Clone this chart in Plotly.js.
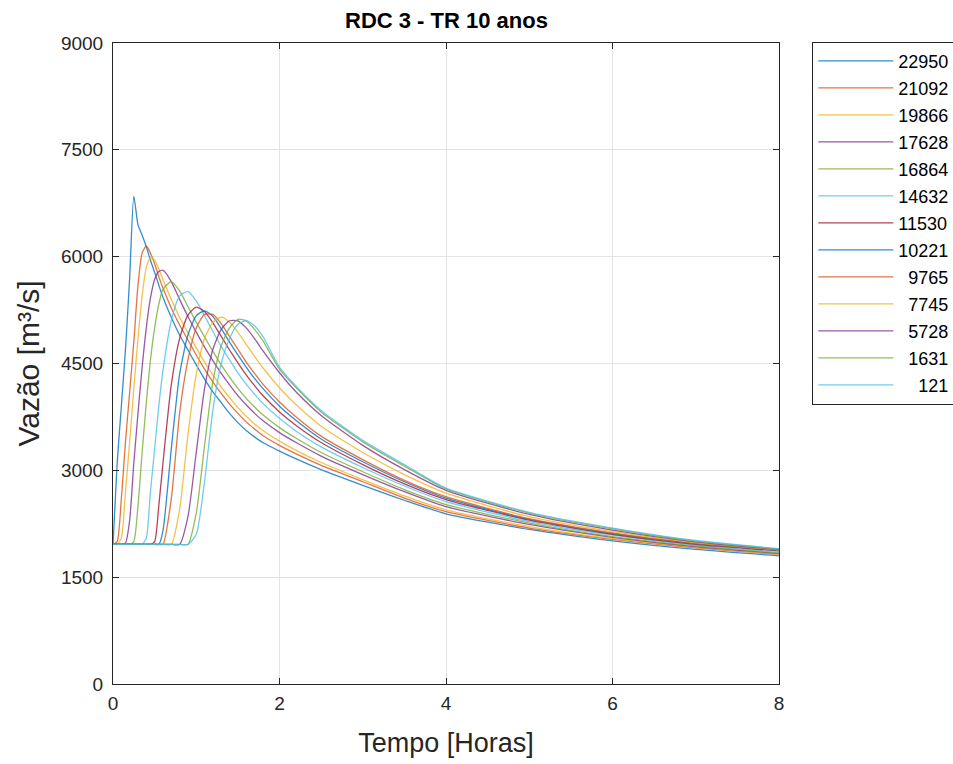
<!DOCTYPE html>
<html>
<head>
<meta charset="utf-8">
<script src="https://cdn.plot.ly/plotly-3.0.1.min.js"></script>
<style>html,body{margin:0;padding:0;background:#fff;}#chart{width:953px;height:764px;}</style>
</head>
<body>
<div id="chart"></div>
<script>
// Time (hours), shared by all series
const tempo = [0, 0.05, 0.1, 0.15, 0.2, 0.25, 0.3, 0.35, 0.4, 0.45, 0.5, 0.55, 0.6, 0.7, 0.8, 0.9, 1.0, 1.1, 1.2, 1.3, 1.4, 1.5, 1.6, 1.7, 1.8, 2.0, 2.2, 2.5, 3.0, 3.5, 4.0, 5.0, 6.0, 7.0, 8.0];

const legendLabels = ["22950", "21092", "19866", "17628", "16864", "14632", "11530", "10221", "9765", "7745", "5728", "1631", "121"];

const q22950 = [1960, 3100, 3900, 4700, 5700, 6850, 6450, 6300, 6140, 5950, 5780, 5600, 5430, 5150, 4900, 4690, 4480, 4280, 4100, 3950, 3800, 3670, 3560, 3470, 3390, 3270, 3160, 3010, 2790, 2580, 2390, 2170, 2010, 1890, 1800];
const q21092 = [1960, 2000, 2600, 3400, 4100, 4800, 5600, 6050, 6150, 6050, 5900, 5720, 5560, 5280, 5040, 4830, 4620, 4420, 4240, 4080, 3930, 3800, 3680, 3580, 3490, 3350, 3230, 3070, 2840, 2610, 2420, 2190, 2030, 1910, 1820];
const q19866 = [1960, 1960, 2050, 2700, 3400, 4150, 4850, 5450, 5850, 5980, 5950, 5830, 5680, 5400, 5150, 4930, 4720, 4520, 4340, 4170, 4020, 3880, 3760, 3650, 3560, 3410, 3280, 3110, 2870, 2640, 2445, 2210, 2040, 1920, 1825];
const q17628 = [1960, 1960, 1960, 1980, 2300, 3100, 3800, 4450, 5000, 5420, 5680, 5790, 5810, 5650, 5400, 5160, 4940, 4730, 4540, 4360, 4200, 4050, 3920, 3800, 3700, 3530, 3390, 3200, 2940, 2700, 2490, 2240, 2060, 1930, 1835];
const q16864 = [1960, 1960, 1960, 1960, 1960, 2000, 2500, 3250, 3950, 4550, 5000, 5330, 5540, 5650, 5520, 5300, 5080, 4870, 4670, 4480, 4310, 4150, 4010, 3890, 3780, 3600, 3450, 3250, 2980, 2730, 2520, 2260, 2070, 1940, 1840];
const q14632 = [1960, 1960, 1960, 1960, 1960, 1960, 1960, 1960, 2050, 2700, 3300, 3900, 4400, 5100, 5450, 5510, 5380, 5170, 4950, 4740, 4550, 4370, 4210, 4070, 3940, 3730, 3550, 3330, 3040, 2780, 2560, 2280, 2090, 1950, 1850];
const q11530 = [1960, 1960, 1960, 1960, 1960, 1960, 1960, 1960, 1960, 1960, 2000, 2500, 3100, 4200, 4850, 5180, 5290, 5230, 5070, 4880, 4690, 4510, 4340, 4190, 4050, 3820, 3630, 3390, 3080, 2810, 2590, 2300, 2100, 1960, 1870];
const q10221 = [1960, 1960, 1960, 1960, 1960, 1960, 1960, 1960, 1960, 1960, 1960, 1960, 2150, 3300, 4350, 4900, 5170, 5240, 5160, 4990, 4800, 4620, 4450, 4290, 4150, 3900, 3700, 3440, 3120, 2840, 2610, 2310, 2110, 1970, 1875];
const q9765 = [1960, 1960, 1960, 1960, 1960, 1960, 1960, 1960, 1960, 1960, 1960, 1960, 1960, 2600, 3800, 4550, 5000, 5190, 5190, 5060, 4880, 4700, 4520, 4360, 4210, 3960, 3750, 3480, 3150, 2860, 2630, 2320, 2120, 1975, 1880];
const q7745 = [1960, 1960, 1960, 1960, 1960, 1960, 1960, 1960, 1960, 1960, 1960, 1960, 1960, 1960, 2450, 3500, 4350, 4850, 5080, 5150, 5080, 4940, 4770, 4600, 4440, 4160, 3920, 3620, 3250, 2940, 2680, 2350, 2140, 1985, 1885];
const q5728 = [1960, 1960, 1960, 1960, 1960, 1960, 1960, 1960, 1960, 1960, 1960, 1960, 1960, 1960, 1960, 2350, 3250, 4150, 4700, 4980, 5100, 5100, 5000, 4850, 4680, 4370, 4100, 3770, 3350, 3010, 2720, 2380, 2160, 1995, 1890];
const q1631 = [1960, 1960, 1960, 1960, 1960, 1960, 1960, 1960, 1960, 1960, 1960, 1960, 1960, 1960, 1960, 1960, 2400, 3350, 4250, 4750, 5000, 5120, 5100, 4980, 4820, 4420, 4160, 3820, 3400, 3060, 2740, 2400, 2180, 2005, 1895];
const q121 = [1960, 1960, 1960, 1960, 1960, 1960, 1960, 1960, 1960, 1960, 1960, 1960, 1960, 1960, 1960, 1960, 2100, 2850, 3850, 4500, 4850, 5050, 5100, 5030, 4880, 4450, 4180, 3840, 3420, 3080, 2750, 2410, 2190, 2015, 1900];

const seriesValues = [q22950, q21092, q19866, q17628, q16864, q14632, q11530, q10221, q9765, q7745, q5728, q1631, q121];

const matlabColors = ["#0072BD", "#D95319", "#EDB120", "#7E2F8E", "#77AC30", "#4DBEEE", "#A2142F"];

const traces = seriesValues.map((vals, i) => {
  const lab = legendLabels[i];
  const pad = "\u2007".repeat(5 - lab.length);
  return {
    x: tempo,
    y: vals,
    type: "scatter",
    mode: "lines",
    name: pad + lab,
    legendgroup: "g" + i,
    line: {color: matlabColors[i % 7], width: 1.3, shape: "spline", smoothing: 0.6},
    opacity: 0.8
  };
});

const FONT = "Liberation Sans, Arial, sans-serif";

const axisCommon = {
  showline: true,
  linecolor: "#262626",
  linewidth: 1,
  mirror: "ticks",
  ticks: "inside",
  ticklen: 6,
  tickcolor: "#262626",
  showgrid: true,
  gridcolor: "#e3e3e3",
  gridwidth: 1,
  zeroline: false,
  tickfont: {family: FONT, size: 19, color: "#262626"}
};

const layout = {
  width: 953,
  height: 764,
  paper_bgcolor: "#ffffff",
  plot_bgcolor: "#ffffff",
  margin: {l: 113, r: 174, t: 43, b: 80, autoexpand: false},
  title: {
    text: "<b>RDC 3 - TR 10 anos</b>",
    font: {family: FONT, size: 22, color: "#000000"},
    x: 0.4685, xanchor: "center", y: 0.973, yanchor: "middle"
  },
  xaxis: Object.assign({}, axisCommon, {
    range: [0, 8],
    tickvals: [0, 2, 4, 6, 8],
    ticktext: ["0", "2", "4", "6", "8"],
    ticklabelstandoff: 2,
    automargin: false,
    title: {text: "Tempo [Horas]", font: {family: FONT, size: 27, color: "#262626"}, standoff: 20}
  }),
  yaxis: Object.assign({}, axisCommon, {
    range: [0, 9000],
    tickvals: [0, 1500, 3000, 4500, 6000, 7500, 9000],
    ticktext: ["0", "1500", "3000", "4500", "6000", "7500", "9000"],
    ticklabelstandoff: 5,
    automargin: false,
    title: {text: "Vazão [m³/s]", font: {family: FONT, size: 30, color: "#262626"}, standoff: 12}
  }),
  legend: {
    x: 1.05, xanchor: "left", y: 1.002, yanchor: "top",
    bordercolor: "#262626", borderwidth: 1, bgcolor: "#ffffff",
    font: {family: FONT, size: 18, color: "#000000"},
    tracegroupgap: 0.6,
    itemwidth: 75
  },
  showlegend: true
};

Plotly.newPlot("chart", traces, layout, {displayModeBar: false, staticPlot: true});
</script>
</body>
</html>
